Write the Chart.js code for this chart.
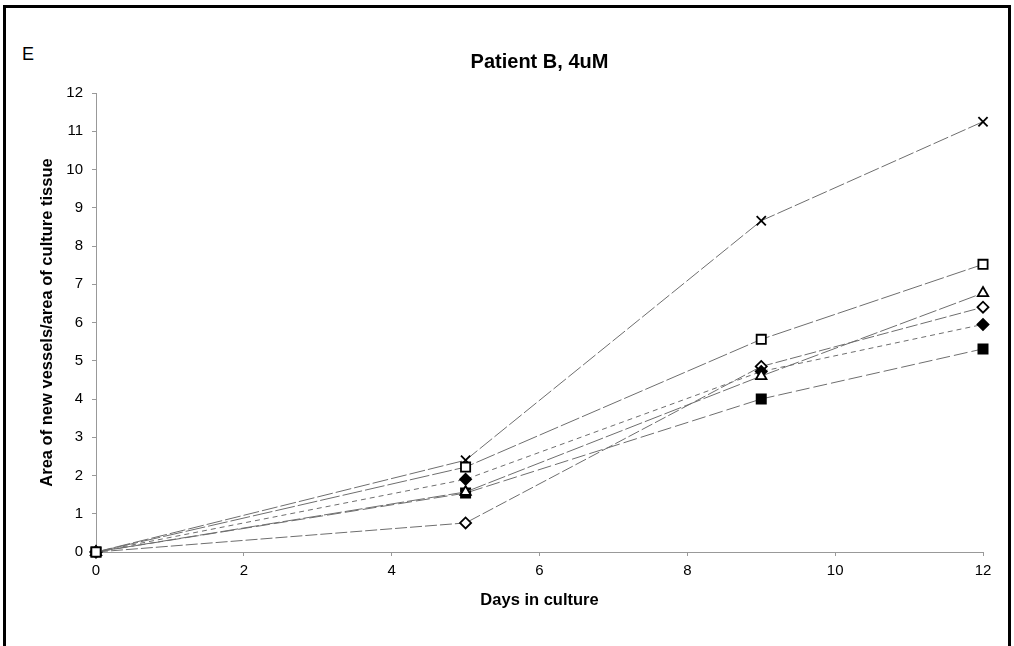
<!DOCTYPE html>
<html>
<head>
<meta charset="utf-8">
<script src="https://cdn.jsdelivr.net/npm/chart.js@4.4.1/dist/chart.umd.min.js"></script>
<style>
  html, body { margin: 0; padding: 0; background: #fff; overflow: hidden; }
  .wrapper { position: relative; width: 1014px; height: 646px; }
  .frame { position: absolute; left: 3px; top: 5px; width: 1002px; height: 700px; border: 3px solid #000; }
  .panel { position: absolute; left: 22px; top: 44px; font: 18px "Liberation Sans", Arial, sans-serif; color: #000; }
  canvas { position: absolute; left: 0; top: 0; }
</style>
</head>
<body>
<div class="wrapper">
  <div class="frame"></div>
  <div class="panel">E</div>
  <canvas id="lineChart" width="1014" height="646"></canvas>
</div>
<script>
// days in culture
const days = [0, 5, 9, 12];
const xTicks = [0, 2, 4, 6, 8, 10, 12];
const yTicks = [0, 1, 2, 3, 4, 5, 6, 7, 8, 9, 10, 11, 12];

// area of new vessels / area of culture tissue, one array per sample
const crossVals = [0, 2.40, 8.66, 11.25];
const openSquareVals = [0, 2.22, 5.56, 7.52];
const triangleVals = [0, 1.57, 4.60, 6.77];
const openDiamondVals = [0, 0.76, 4.85, 6.40];
const filledDiamondVals = [0, 1.90, 4.72, 5.95];
const filledSquareVals = [0, 1.54, 4.00, 5.31];

Chart.defaults.font.family = '"Liberation Sans", Arial, sans-serif';
Chart.defaults.color = '#000';

const toPts = vals => vals.map((v, i) => ({ x: days[i], y: v }));

const mkSet = (label, vals, style, radius, fill, dash) => ({
  label,
  data: toPts(vals),
  clip: false,
  borderColor: '#6e6e6e',
  borderWidth: 1,
  borderDash: dash,
  pointStyle: style,
  pointRadius: radius,
  pointHoverRadius: radius,
  pointBackgroundColor: fill,
  pointBorderColor: '#000',
  pointBorderWidth: 1.8,
  tension: 0,
  fill: false
});

const ctx = document.getElementById('lineChart');

new Chart(ctx, {
  type: 'line',
  data: {
    datasets: [
      mkSet('open square', openSquareVals, 'rect', 6.5, '#fff', [20, 3]),
      mkSet('cross', crossVals, 'crossRot', 6.5, '#000', [16, 3]),
      mkSet('triangle', triangleVals, 'triangle', 6, '#fff', [18, 3]),
      mkSet('filled diamond', filledDiamondVals, 'rectRot', 5.5, '#000', [5, 4]),
      mkSet('filled square', filledSquareVals, 'rect', 6.5, '#000', [14, 4]),
      mkSet('open diamond', openDiamondVals, 'rectRot', 5.5, '#fff', [12, 3])
    ]
  },
  options: {
    responsive: false,
    animation: false,
    layout: { padding: { left: 0, right: 31, top: 0, bottom: 0 } },
    plugins: {
      legend: { display: false },
      tooltip: { enabled: false },
      title: {
        display: true,
        text: 'Patient B, 4uM',
        fullSize: false,
        color: '#000',
        font: { size: 20, weight: 'bold' },
        padding: { top: 50, bottom: 19 }
      }
    },
    scales: {
      x: {
        type: 'linear',
        min: 0,
        max: 12,
        afterBuildTicks: s => { s.ticks = xTicks.map(v => ({ value: v })); },
        afterFit: s => { s.height = 94; },
        border: { color: '#999', width: 1 },
        grid: { drawOnChartArea: false, color: '#999', tickLength: 4 },
        ticks: { font: { size: 15 }, padding: 6, color: '#000' },
        title: {
          display: true,
          text: 'Days in culture',
          color: '#000',
          font: { size: 16.5, weight: 'bold' },
          padding: { top: 0, bottom: 36 }
        }
      },
      y: {
        min: 0,
        max: 12,
        afterBuildTicks: s => { s.ticks = yTicks.map(v => ({ value: v })); },
        afterFit: s => { s.width = 96; },
        border: { color: '#999', width: 1 },
        grid: { drawOnChartArea: false, color: '#999', tickLength: 4 },
        ticks: { font: { size: 15 }, padding: 9, color: '#000' },
        title: {
          display: true,
          text: 'Area of new vessels/area of culture tissue',
          color: '#000',
          font: { size: 16.5, weight: 'bold' },
          padding: { top: 38, bottom: 0 }
        }
      }
    }
  }
});
</script>
</body>
</html>
